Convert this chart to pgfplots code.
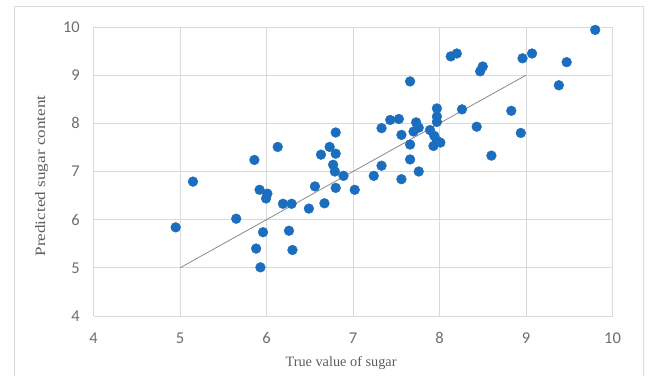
\documentclass[border=0pt]{standalone}
\usepackage{fontspec}
\setmainfont{Liberation Serif}
\newfontfamily\tickfont{Carlito}
\usepackage{pgfplots}
\pgfplotsset{compat=1.18}
\definecolor{gridgray}{HTML}{D9D9D9}
\definecolor{tickgray}{HTML}{6E6E6E}
\definecolor{labgray}{HTML}{5E5E5E}
\definecolor{dotblue}{HTML}{1B6EBE}
\definecolor{linegray}{HTML}{8A8A8A}
\begin{document}
\begin{tikzpicture}[x=1pt,y=1pt]
\useasboundingbox (0,0) rectangle (650,375);
\fill[white] (0,0) rectangle (650,375);
\draw[gridgray, line width=1pt] (14,-3) rectangle (643,368);
\begin{axis}[
  at={(93.5pt,59pt)}, anchor=south west,
  scale only axis, width=519pt, height=289pt,
  xmin=4, xmax=10, ymin=4, ymax=10,
  xtick={4,5,...,10}, ytick={4,5,...,10},
  grid=major,
  grid style={gridgray, line width=0.9pt},
  axis line style={draw=none},
  major tick length=0pt,
  /pgf/number format/assume math mode=true,
  tick label style={font=\fontsize{16.5}{18}\tickfont, text=tickgray, inner sep=0pt},
  xticklabel style={anchor=center, yshift=-22pt},
  yticklabel style={anchor=east, xshift=-13.5pt},
  xlabel={True value of sugar},
  ylabel={\scalebox{1.2}[1]{Predicted sugar content}},
  label style={font=\fontsize{14.3}{16}\selectfont, text=labgray},
  xlabel style={at={(axis description cs:0.477,-0.1626)}, anchor=center},
  ylabel style={at={(axis description cs:-0.0998,0.4844)}, anchor=center, rotate=0},
  clip=false,
]
\addplot[only marks, mark=*, mark size=4.9pt, draw=none, mark options={fill=dotblue, draw=dotblue}] coordinates {
(4.95,5.84) (5.15,6.79) (5.65,6.02) (5.86,7.24) (5.92,6.62) (6.01,6.54)
(5.995,6.44) (5.96,5.74) (5.88,5.40) (5.93,5.01) (6.13,7.51) (6.19,6.33)
(6.29,6.33) (6.26,5.77) (6.30,5.37) (6.49,6.23) (6.56,6.69) (6.67,6.34)
(6.63,7.35) (6.73,7.51) (6.80,7.37) (6.80,7.81) (6.77,7.14) (6.79,7.00)
(6.80,6.66) (6.89,6.91) (7.02,6.62) (7.24,6.91) (7.33,7.12) (7.33,7.90)
(7.43,8.07) (7.53,8.09) (7.56,7.76) (7.56,6.84) (7.66,7.56) (7.66,7.25)
(7.66,8.87) (7.76,7.00) (7.73,8.02) (7.70,7.83) (7.76,7.91) (7.89,7.86)
(7.97,8.31) (7.97,8.14) (7.97,8.03) (7.93,7.53) (7.97,7.64) (8.01,7.60)
(7.94,7.74) (8.13,9.39) (8.20,9.45) (8.26,8.29) (8.43,7.93) (8.47,9.08)
(8.50,9.18) (8.60,7.33) (8.83,8.26) (8.94,7.80) (8.96,9.35) (9.07,9.45)
(9.38,8.79) (9.47,9.27) (9.80,9.94)
};
\addplot[linegray, line width=0.8pt, no marks] coordinates {(5,5) (9,9)};
\end{axis}
\end{tikzpicture}
\end{document}
